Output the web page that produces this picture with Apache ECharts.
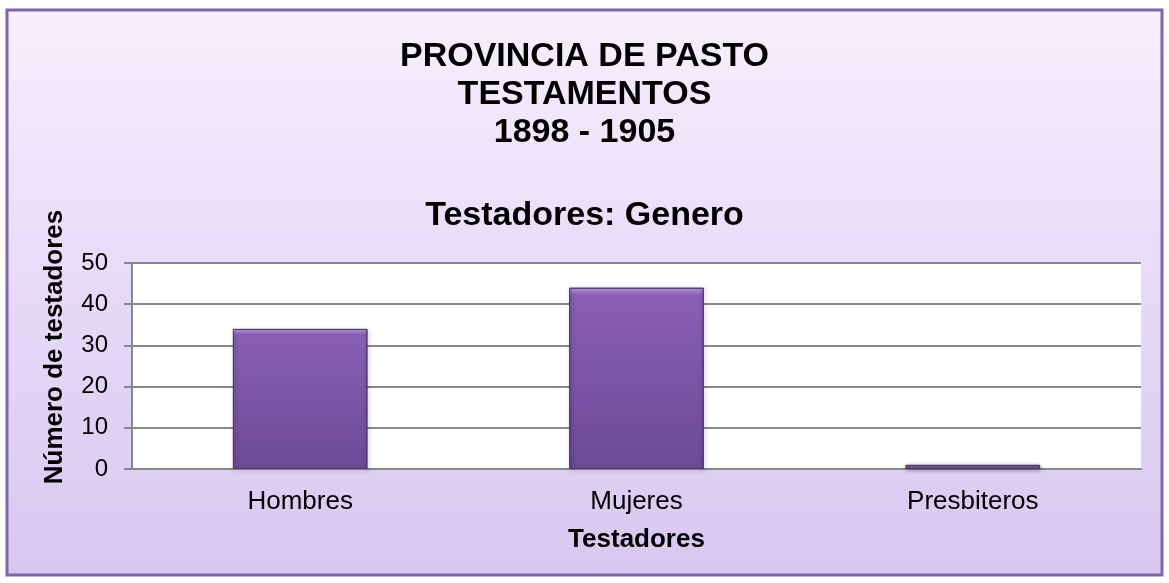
<!DOCTYPE html>
<html>
<head>
<meta charset="utf-8">
<script src="https://cdn.jsdelivr.net/npm/echarts@6/dist/echarts.min.js"></script>
<style>
    html, body { margin: 0; padding: 0; background: #fff; }
    #chart { width: 1169px; height: 583px; }
</style>
</head>
<body>
<div id="chart"></div>
<script>
// datos del grafico
var categorias = ['Hombres', 'Mujeres', 'Presbiteros'];
var testadores = [34, 44, 1];
var titulo = 'PROVINCIA DE PASTO\nTESTAMENTOS\n1898 - 1905';
var subtitulo = 'Testadores: Genero';

var myChart = echarts.init(document.getElementById('chart'));

var option = {
    backgroundColor: '#fff',
    textStyle: { fontFamily: 'Liberation Sans, Arial, sans-serif' },
    graphic: [
        {
            type: 'rect',
            z: -10,
            shape: { x: 7, y: 10, width: 1155, height: 565 },
            style: {
                fill: new echarts.graphic.LinearGradient(0, 0, 0, 1, [
                    { offset: 0, color: '#f6f0fc' },
                    { offset: 0.5, color: '#e6daf8' },
                    { offset: 1, color: '#d8c7f0' }
                ]),
                stroke: '#7f66aa',
                lineWidth: 3
            }
        }
    ],
    title: [
        {
            text: titulo,
            left: 'center',
            top: 33,
            textStyle: { fontSize: 34, fontWeight: 'bold', color: '#000', lineHeight: 38 }
        },
        {
            text: subtitulo,
            left: 'center',
            top: 192,
            textStyle: { fontSize: 34, fontWeight: 'bold', color: '#000', lineHeight: 38 }
        }
    ],
    grid: {
        left: 132,
        right: 28,
        top: 263,
        bottom: 114,
        show: true,
        backgroundColor: '#fff',
        borderWidth: 0
    },
    xAxis: {
        type: 'category',
        data: categorias,
        name: 'Testadores',
        nameLocation: 'middle',
        nameGap: 58,
        nameTextStyle: { fontSize: 26, fontWeight: 'bold', color: '#000' },
        axisLine: { lineStyle: { color: '#888', width: 2 } },
        axisTick: { show: false },
        axisLabel: { fontSize: 26, color: '#000', margin: 20 }
    },
    yAxis: {
        type: 'value',
        min: 0,
        max: 50,
        interval: 10,
        name: 'Número de testadores',
        nameLocation: 'middle',
        nameGap: 64,
        nameTextStyle: { fontSize: 26, fontWeight: 'bold', color: '#000', padding: [0, 0, 0, 38] },
        axisLine: { show: true, lineStyle: { color: '#888', width: 2 } },
        axisTick: { show: true, length: 8, lineStyle: { color: '#888', width: 2 } },
        axisLabel: { fontSize: 24, color: '#000', margin: 24 },
        splitLine: { lineStyle: { color: '#888', width: 2 } }
    },
    series: [
        {
            type: 'bar',
            data: testadores,
            barWidth: '40%',
            itemStyle: {
                color: new echarts.graphic.LinearGradient(0, 0, 0, 1, [
                    { offset: 0, color: '#c79ff0' },
                    { offset: 0.04, color: '#8a5fb6' },
                    { offset: 1, color: '#6b4a96' }
                ]),
                borderColor: '#4f3a70',
                borderWidth: 1,
                shadowColor: 'rgba(0,0,0,0.35)',
                shadowBlur: 4,
                shadowOffsetX: 1,
                shadowOffsetY: 1
            }
        }
    ]
};
myChart.setOption(option);
</script>
</body>
</html>
